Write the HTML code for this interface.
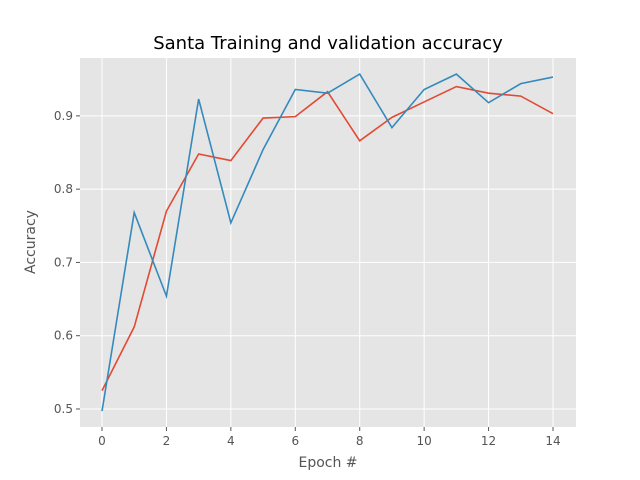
<!DOCTYPE html>
<html><head><meta charset="utf-8"><style>
body{margin:0;background:#fff;}
svg{display:block;font-family:"DejaVu Sans","Liberation Sans",sans-serif;}
</style></head><body>
<svg id="chart" width="640" height="480">
<rect x="0" y="0" width="640" height="480" fill="#fff"/>
<rect x="80" y="58" width="496" height="369" fill="#E5E5E5"/>
<g id="grid"></g>
<g id="series"></g>
<g id="ticks"></g>
<text x="328" y="49" text-anchor="middle" font-size="18" fill="#000">Santa Training and validation accuracy</text>
<text x="328" y="467" text-anchor="middle" font-size="14" fill="#555">Epoch #</text>
<text x="35" y="242" text-anchor="middle" font-size="14" fill="#555" transform="rotate(-90 35 242)">Accuracy</text>
</svg>
<script>
const epochs=[0,1,2,3,4,5,6,7,8,9,10,11,12,13,14];
const trainAcc=[0.525,0.612,0.770,0.848,0.839,0.897,0.899,0.933,0.866,0.898,0.919,0.940,0.931,0.927,0.903];
const valAcc=[0.497,0.768,0.654,0.923,0.754,0.854,0.936,0.931,0.957,0.884,0.936,0.957,0.918,0.944,0.953];
const xTicks=[0,2,4,6,8,10,12,14];
const yTicks=[0.5,0.6,0.7,0.8,0.9];
const L=80,R=576,T=58,B=427;
const xMin=-0.683,xMax=14.714,yMin=0.4754,yMax=0.979;
const sx=v=>L+(v-xMin)/(xMax-xMin)*(R-L);
const sy=v=>B-(v-yMin)/(yMax-yMin)*(B-T);
const NS="http://www.w3.org/2000/svg";
const grid=document.getElementById('grid'),ticks=document.getElementById('ticks'),series=document.getElementById('series');
function mk(t,a,p){const e=document.createElementNS(NS,t);for(const k in a)e.setAttribute(k,a[k]);p.appendChild(e);return e;}
xTicks.forEach(v=>{
 const g=mk('line',{x1:sx(v),x2:sx(v),y1:T,y2:B,stroke:'#fff','stroke-width':1},grid);
 
 
 const tk=mk('line',{x1:sx(v),x2:sx(v),y1:B,y2:B+4,stroke:'#555'},ticks);
 
 
 const t=mk('text',{x:sx(v),y:B+18,'text-anchor':'middle','font-size':12,fill:'#555'},ticks);
 t.textContent=v;
 
 
});
yTicks.forEach(v=>{
 const g=mk('line',{x1:L,x2:R,y1:sy(v),y2:sy(v),stroke:'#fff','stroke-width':1},grid);
 
 
 const tk=mk('line',{x1:L-4,x2:L,y1:sy(v),y2:sy(v),stroke:'#555'},ticks);
 
 
 const t=mk('text',{x:L-7,y:sy(v)+4,'text-anchor':'end','font-size':12,fill:'#555'},ticks);
 t.textContent=v.toFixed(1);
 
 
});
function line(data,color,name){
 const p=mk('polyline',{points:data.map((v,i)=>sx(epochs[i])+','+sy(v)).join(' '),fill:'none',stroke:color,'stroke-width':1.6},series);
 
 
}
line(trainAcc,'#E24A33','train-accuracy-line');
line(valAcc,'#348ABD','val-accuracy-line');
</script>
</body></html>
